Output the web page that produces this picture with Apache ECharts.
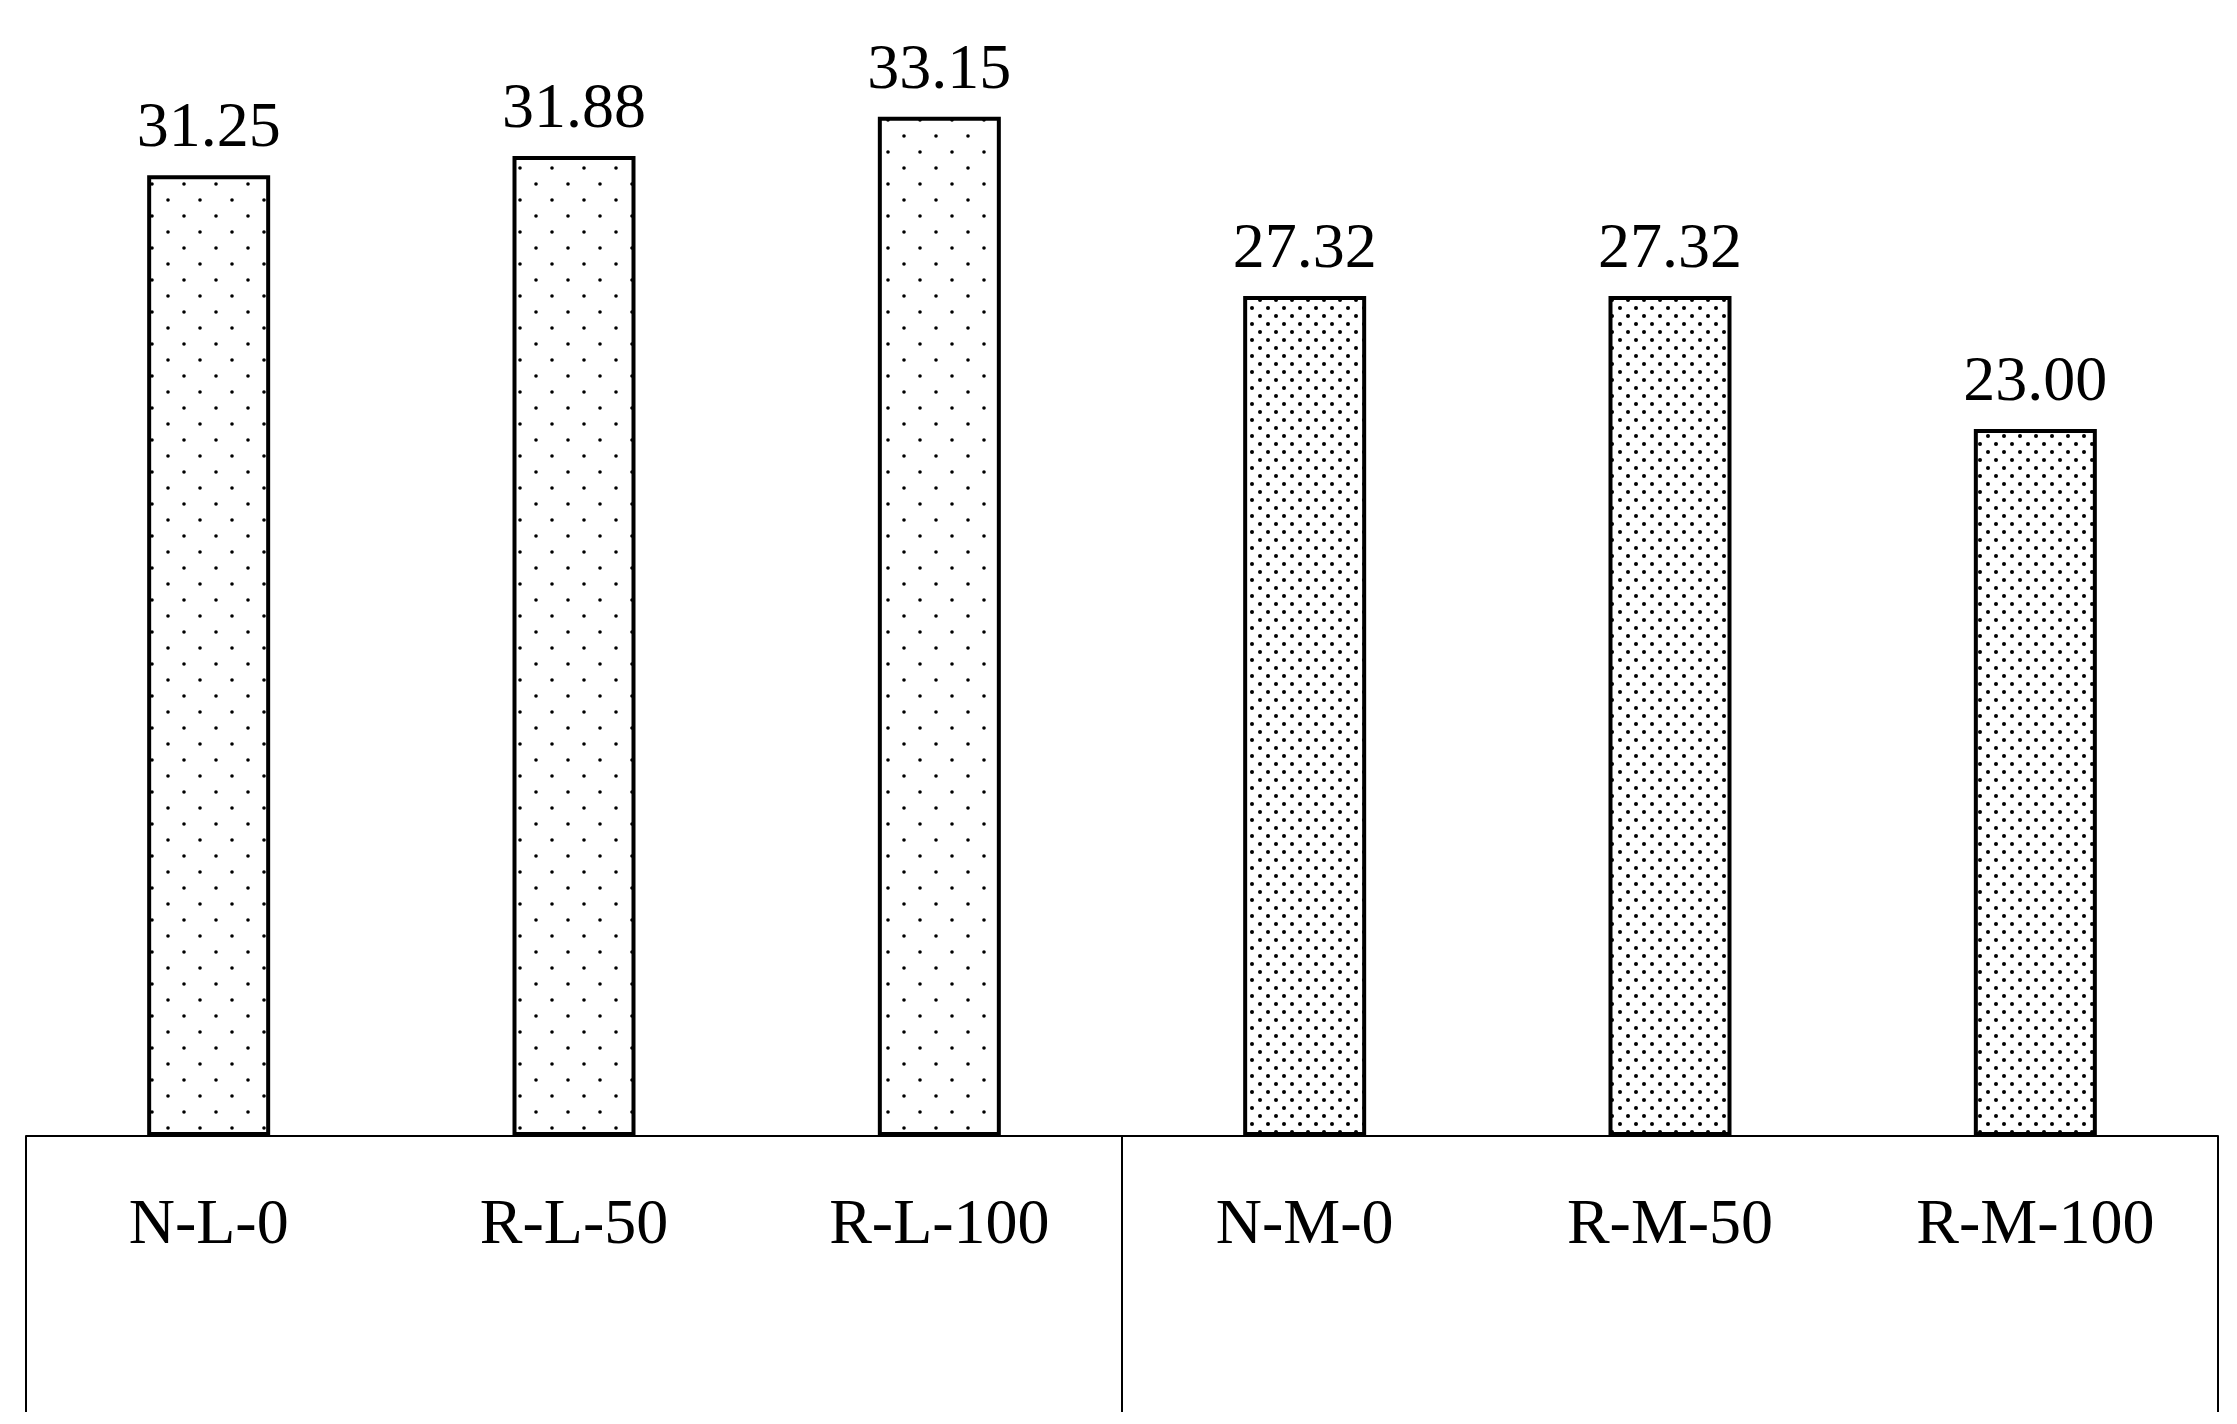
<!DOCTYPE html>
<html>
<head>
<meta charset="utf-8">
<script src="https://cdn.jsdelivr.net/npm/echarts@6/dist/echarts.min.js"></script>
<style>html,body{margin:0;padding:0;background:#fff}#main{width:2237px;height:1424px}</style>
</head>
<body>
<div id="main"></div>
<script>
var categories = ['N-L-0', 'R-L-50', 'R-L-100', 'N-M-0', 'R-M-50', 'R-M-100'];
var values = [31.25, 31.88, 33.15, 27.32, 27.32, 23.00];
var groupNames = ['', ''];

// dotted fills: sparse for L group, dense for M group
function dots(step, r) {
    var c = document.createElement('canvas');
    c.width = step * 2; c.height = step * 2;
    var ctx = c.getContext('2d');
    ctx.fillStyle = '#fff';
    ctx.fillRect(0, 0, c.width, c.height);
    ctx.fillStyle = '#000';
    var pts = [[0, 0], [step, step]];
    for (var i = 0; i < pts.length; i++) {
        ctx.beginPath();
        ctx.arc(pts[i][0] + step / 2, pts[i][1] + step / 2, r, 0, Math.PI * 2);
        ctx.fill();
    }
    return { image: c, repeat: 'repeat' };
}
var sparse = dots(16, 1.8);
var dense = dots(8, 2.0);

var data = [];
for (var i = 0; i < values.length; i++) {
    data.push({ value: values[i], itemStyle: { color: i < 3 ? sparse : dense } });
}

var myChart = echarts.init(document.getElementById('main'));
myChart.setOption({
    animation: false,
    backgroundColor: '#fff',
    grid: { left: 26, right: 19, top: 60, bottom: 288 },
    xAxis: [{
        type: 'category',
        data: categories,
        axisLine: { lineStyle: { color: '#000', width: 2 } },
        axisTick: { show: false },
        axisLabel: { color: '#000', fontFamily: 'Liberation Serif', fontSize: 64, margin: 58 }
    }, {
        type: 'category',
        data: groupNames,
        position: 'bottom',
        axisLine: { show: false },
        axisTick: { show: true, length: 276, lineStyle: { color: '#000', width: 2 } },
        axisLabel: { show: false }
    }],
    yAxis: {
        type: 'value',
        min: 0,
        max: 35,
        show: false,
        splitLine: { show: false }
    },
    series: [{
        type: 'bar',
        xAxisIndex: 0,
        data: data,
        barWidth: 123,
        itemStyle: { borderColor: '#000', borderWidth: 4 },
        label: {
            show: true,
            position: 'top',
            distance: 14,
            color: '#000',
            fontFamily: 'Liberation Serif',
            fontSize: 64,
            formatter: function (p) { return p.value.toFixed(2); }
        }
    }]
});
</script>
</body>
</html>
